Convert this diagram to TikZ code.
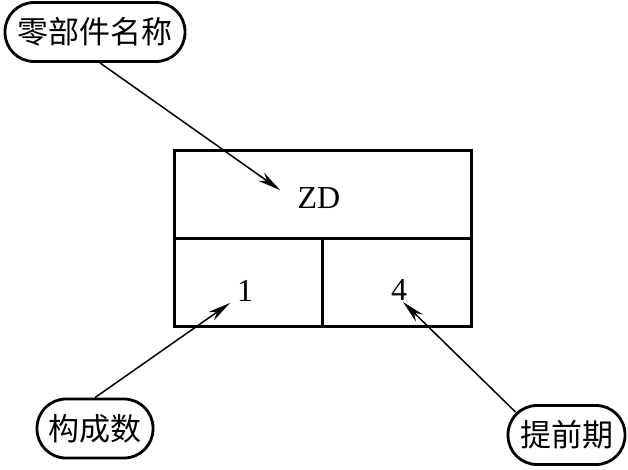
\documentclass[tikz,border=0pt]{standalone}
\usepackage{fontspec}
\setmainfont{Liberation Serif}
\newfontfamily\cjk{Noto Sans CJK SC}
\usetikzlibrary{arrows.meta}
\begin{document}
\begin{tikzpicture}[x=1pt,y=-1pt,
  lbl/.style={draw, line width=2.8pt, rounded corners=29pt, minimum height=59pt,
    font=\cjk\fontsize{31}{31}\selectfont, inner sep=0pt},
  cell/.style={draw, line width=3pt, inner sep=0pt},
  conn/.style={line width=1.5pt, -{Stealth[length=23pt,width=10pt]}},
  val/.style={font=\fontsize{32}{32}\selectfont, inner sep=0pt}]
\useasboundingbox (0,0) rectangle (628,469);
% labels
\node[lbl, minimum width=180pt] (top) at (95,32) {零部件名称};
\node[lbl, minimum width=116pt] (bl) at (95,428.5) {构成数};
\node[lbl, minimum width=117pt] (br) at (566.5,435) {提前期};
% box cells
\node[cell, minimum width=297pt, minimum height=88pt] (name) at (322.5,194) {};
\node[cell, minimum width=148pt, minimum height=88pt] (qty) at (248,282) {};
\node[cell, minimum width=149pt, minimum height=88pt] (lead) at (396.5,282) {};
% values
\node[val] (zd) at (319,198) {ZD};
\node[val] (one) at (245,291) {1};
\node[val] (four) at (399,290) {4};
% arrow tips
\coordinate (t1) at (280,190);
\coordinate (t2) at (230,303);
\coordinate (t3) at (403,302);
% connectors
\draw[conn] ([xshift=5pt]top.south) -- (t1);
\draw[conn] (bl.north) -- (t2);
\draw[conn] ([shift={(9,8)}]br.north west) -- (t3);
\end{tikzpicture}
\end{document}
